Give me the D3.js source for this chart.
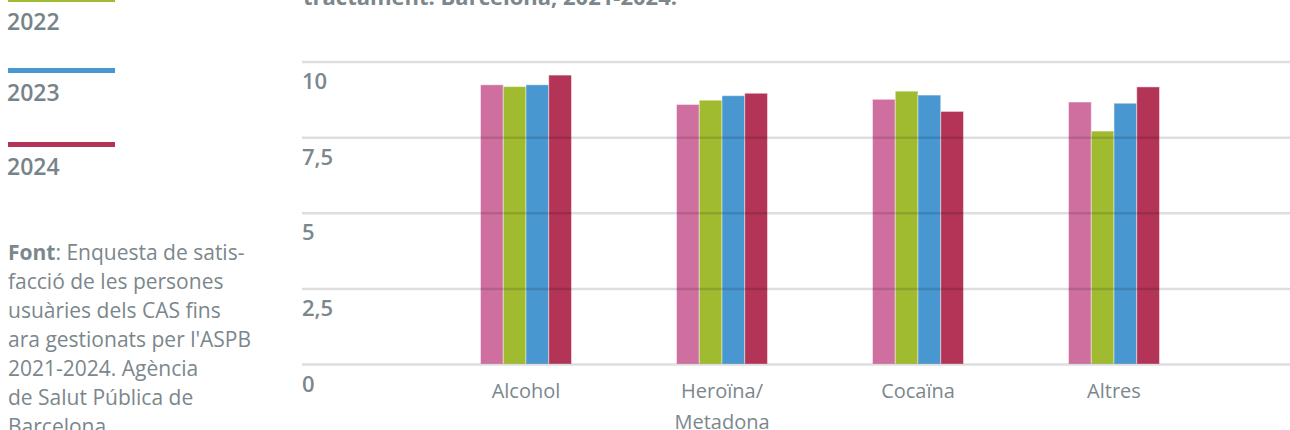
<!DOCTYPE html>
<html lang="ca">
<head>
  <meta charset="UTF-8">
  <title>Satisfacció per droga principal, Barcelona 2021-2024</title>
  <script src="https://d3js.org/d3.v7.min.js"></script>
  <style>
    body {
      margin: 0;
      background: #fff;
      font-family: 'Open Sans', sans-serif;
    }
    svg text {
      font-family: 'Open Sans', sans-serif;
    }
    .axis-label {
      fill: #7b878c;
      font-size: 22px;
      font-weight: 600;
    }
    .cat-label {
      fill: #7b878c;
      font-size: 20px;
    }
    .legend-label {
      fill: #76848a;
      font-size: 23px;
      font-weight: 600;
    }
    .source {
      fill: #7b878c;
      font-size: 21px;
    }
    .title {
      fill: #7b878c;
      font-size: 22px;
      font-weight: 700;
    }
  </style>
</head>
<body>
  <svg id="chart" width="1290" height="430"></svg>

  <script>
    // data
    const categories = ["Alcohol", "Heroïna/\nMetadona", "Cocaïna", "Altres"];
    const years = ["2021", "2022", "2023", "2024"];
    const values2021 = [9.23, 8.58, 8.75, 8.66];
    const values2022 = [9.17, 8.72, 9.02, 7.70];
    const values2023 = [9.23, 8.87, 8.89, 8.62];
    const values2024 = [9.55, 8.95, 8.35, 9.16];
    const yTicks = [0, 2.5, 5, 7.5, 10];
    const sourceLines = [
      "Enquesta de satis-",
      "facció de les persones",
      "usuàries dels CAS fins",
      "ara gestionats per l'ASPB",
      "2021-2024. Agència",
      "de Salut Pública de",
      "Barcelona."
    ];

    const series = [values2021, values2022, values2023, values2024];
    const colors = ["#cf6f9f", "#a1bb31", "#4897d0", "#b33456"];

    const svg = d3.select("#chart");

    const x0 = d3.scaleBand()
      .domain(categories)
      .range([428, 1212])
      .paddingInner(0.536)
      .paddingOuter(0.268);

    const x1 = d3.scaleBand()
      .domain(years)
      .range([0, x0.bandwidth()]);

    const y = d3.scaleLinear()
      .domain([0, 10])
      .range([364, 61.5]);

    // title (only its last line is in view)
    svg.append("text")
      .attr("class", "title")
      .attr("x", 303)
      .attr("y", 5)
      .text("tractament. Barcelona, 2021-2024.");

    // bars
    const rows = categories.map((c, i) => ({
      cat: c,
      vals: years.map((yr, j) => ({ year: yr, value: series[j][i], color: colors[j] }))
    }));

    svg.append("g")
      .selectAll("g")
      .data(rows)
      .join("g")
      .attr("transform", d => `translate(${x0(d.cat)},0)`)
      .selectAll("rect")
      .data(d => d.vals)
      .join("rect")
      .attr("x", d => x1(d.year))
      .attr("y", d => y(d.value))
      .attr("width", x1.bandwidth())
      .attr("height", d => y(0) - y(d.value))
      .attr("fill", d => d.color)
      .attr("stroke", "rgba(255,255,255,0.45)")
      .attr("stroke-width", 1);

    // gridlines drawn over the bars
    const yAxis = d3.axisRight(y)
      .tickValues(yTicks)
      .tickSize(988)
      .tickFormat(d => String(d).replace(".", ","));

    const gy = svg.append("g")
      .attr("transform", "translate(302,0)")
      .call(yAxis)
      .attr("font-family", null)
      .attr("font-size", null);
    gy.select(".domain").remove();
    gy.selectAll(".tick line")
      .attr("stroke", "rgba(0,0,0,0.13)")
      .attr("stroke-width", 2.5);
    gy.selectAll(".tick text")
      .attr("class", "axis-label")
      .attr("x", 0)
      .attr("dy", 27)
      .attr("text-anchor", "start")
      .attr("fill", null);

    // category labels
    const xl = svg.append("g")
      .selectAll("text")
      .data(categories)
      .join("text")
      .attr("class", "cat-label")
      .attr("text-anchor", "middle")
      .attr("x", d => x0(d) + x0.bandwidth() / 2)
      .attr("y", 398);
    xl.selectAll("tspan")
      .data(d => d.split("\n"))
      .join("tspan")
      .attr("x", function () { return d3.select(this.parentNode).attr("x"); })
      .attr("dy", (d, i) => i === 0 ? 0 : 31)
      .text(d => d);

    // legend on the left
    const legendY = [-72, -3, 68, 142];
    const lg = svg.append("g")
      .selectAll("g")
      .data(years)
      .join("g")
      .attr("transform", (d, i) => `translate(8,${legendY[i]})`);
    lg.append("rect")
      .attr("width", 107)
      .attr("height", 5)
      .attr("fill", (d, i) => colors[i]);
    lg.append("text")
      .attr("class", "legend-label")
      .attr("x", -1)
      .attr("y", 33)
      .text(d => d);

    // source note
    const src = svg.append("text")
      .attr("class", "source")
      .attr("x", 8)
      .attr("y", 260);
    src.append("tspan")
      .attr("font-weight", 700)
      .text("Font");
    src.append("tspan")
      .text(": " + sourceLines[0]);
    sourceLines.slice(1).forEach((line, i) => {
      svg.append("text")
        .attr("class", "source")
        .attr("x", 8)
        .attr("y", 260 + 29 * (i + 1))
        .text(line);
    });
  </script>
</body>
</html>
